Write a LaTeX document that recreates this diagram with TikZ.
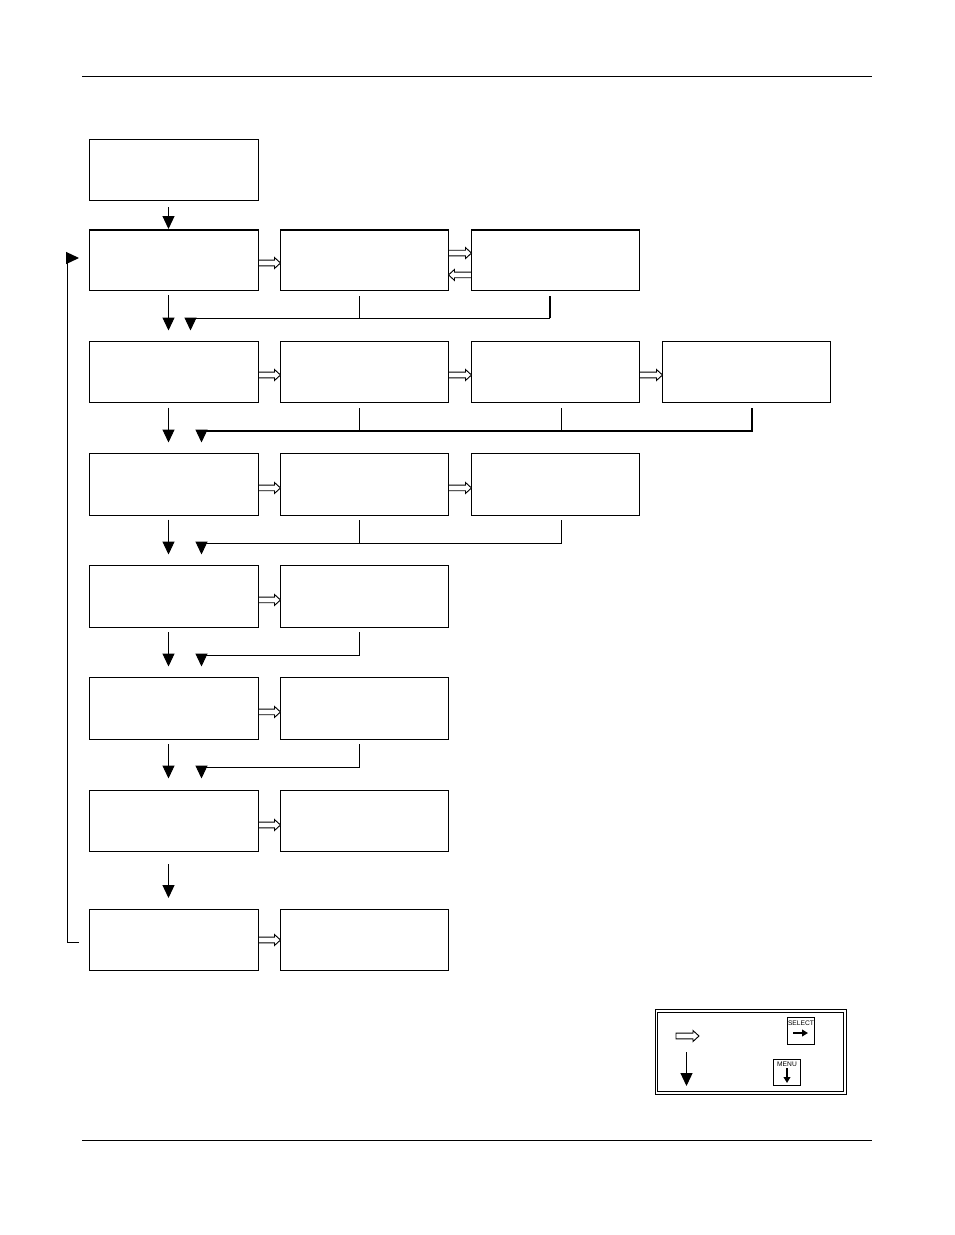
\documentclass[tikz,border=0pt]{standalone}
\usepackage{fontspec}
\setmainfont{Liberation Sans}
\usetikzlibrary{arrows.meta,calc}
\tikzset{
  bx/.style={draw=black,line width=0.75pt,fill=white,inner sep=0pt,outer sep=0pt},
  rule/.style={draw=black,line width=0.75pt},
  nextarrow/.style={draw=black,line width=0.75pt,-{Triangle[length=9.7pt,width=9pt]}},
  feed/.style={draw=black,line width=0.75pt},
  feedthick/.style={draw=black,line width=1.5pt},
  holl/.style={draw=black,line width=0.7pt,fill=white,line join=miter},
  btxt/.style={inner sep=0pt,font=\fontsize{5}{5}\selectfont},
  btip/.style={draw=black,line width=1.2pt,-{Triangle[length=4.5pt,width=5pt]}}
}
\newcommand{\bxn}[5]{\node[bx,minimum width={(#4-#2)*0.75pt},minimum height={(#5-#3)*0.75pt}] (#1) at ({(#2+#4)/2},{(#3+#5)/2}) {};}
% hollow arrow between two points on one level; #3 = +1 rightwards, -1 leftwards
\newcommand{\hollowarrow}[3]{\draw[holl] let \p1=(#1),\p2=(#2) in
  (\x1,{\y1+2.1pt}) -- ({\x2-(#3)*4.5pt},{\y1+2.1pt}) -- ({\x2-(#3)*4.5pt},{\y1+4.1pt}) -- (\x2,\y1)
  -- ({\x2-(#3)*4.5pt},{\y1-4.1pt}) -- ({\x2-(#3)*4.5pt},{\y1-2.1pt}) -- (\x1,{\y1-2.1pt}) -- cycle;}
\newcommand{\sela}[3]{\hollowarrow{[yshift=#3]#1.east}{[yshift=#3]#2.west}{1}}
\begin{document}
\begin{tikzpicture}[x=0.75pt,y=-0.75pt]
\useasboundingbox (0,0) rectangle (954,1235);
% page rules
\coordinate (rt1) at (82,76.5); \coordinate (rt2) at (872,76.5);
\coordinate (rb1) at (82,1140.5); \coordinate (rb2) at (872,1140.5);
\draw[rule] (rt1) -- (rt2);
\draw[rule] (rb1) -- (rb2);
% boxes
\bxn{a0}{89.5}{139.5}{258.5}{200.5}
\bxn{a1}{89.5}{229.5}{258.5}{290.5}
\bxn{b1}{280.5}{229.5}{448.5}{290.5}
\bxn{c1}{471.5}{229.5}{639.5}{290.5}
\bxn{a2}{89.5}{341.5}{258.5}{402.5}
\bxn{b2}{280.5}{341.5}{448.5}{402.5}
\bxn{c2}{471.5}{341.5}{639.5}{402.5}
\bxn{d2}{662.5}{341.5}{830.5}{402.5}
\bxn{a3}{89.5}{453.5}{258.5}{515.5}
\bxn{b3}{280.5}{453.5}{448.5}{515.5}
\bxn{c3}{471.5}{453.5}{639.5}{515.5}
\bxn{a4}{89.5}{565.5}{258.5}{627.5}
\bxn{b4}{280.5}{565.5}{448.5}{627.5}
\bxn{a5}{89.5}{677.5}{258.5}{739.5}
\bxn{b5}{280.5}{677.5}{448.5}{739.5}
\bxn{a6}{89.5}{790.5}{258.5}{851.5}
\bxn{b6}{280.5}{790.5}{448.5}{851.5}
\bxn{a7}{89.5}{909.5}{258.5}{970.5}
\bxn{b7}{280.5}{909.5}{448.5}{970.5}
% heavier top edges of the second row
\draw[line width=1.5pt] (a1.north west) -- (a1.north east);
\draw[line width=1.5pt] (b1.north west) -- (b1.north east);
\draw[line width=1.5pt] (c1.north west) -- (c1.north east);
% select arrows
\sela{a1}{b1}{-2.25pt}
\sela{a2}{b2}{-2.25pt}\sela{b2}{c2}{-2.25pt}\sela{c2}{d2}{-2.25pt}
\sela{a3}{b3}{-2.6pt}\sela{b3}{c3}{-2.6pt}
\sela{a4}{b4}{-2.6pt}
\sela{a5}{b5}{-2.6pt}
\sela{a6}{b6}{-3pt}
\sela{a7}{b7}{0pt}
\sela{b1}{c1}{5.2pt}
\hollowarrow{[yshift=-11.2pt]c1.west}{[yshift=-11.2pt]b1.east}{-1}
% menu arrows
\coordinate (s0) at (168.5,207); \coordinate (t0) at (168.5,229);
\coordinate (s1) at (168.5,295); \coordinate (t1) at (168.5,330.5);
\coordinate (s2) at (168.5,407.5); \coordinate (t2) at (168.5,442.5);
\coordinate (s3) at (168.5,519.5); \coordinate (t3) at (168.5,554.5);
\coordinate (s4) at (168.5,632); \coordinate (t4) at (168.5,666.5);
\coordinate (s5) at (168.5,744); \coordinate (t5) at (168.5,778.5);
\coordinate (s6) at (168.5,864); \coordinate (t6) at (168.5,898);
\foreach \i in {0,...,6} {\draw[nextarrow] (s\i) -- (t\i);}
% return lines
\coordinate (p1) at (550,296); \coordinate (q1) at (190.5,318); \coordinate (e1) at (190.5,330.5);
\coordinate (p1b) at (359,296);
\draw[feedthick] (p1) -- (p1 |- q1);
\draw[feed] (p1 |- q1) -- (q1);
\draw[feed] (p1b) -- (p1b |- q1);
\draw[nextarrow] (q1) -- (e1);
\coordinate (p2) at (752,408); \coordinate (q2) at (201.5,431); \coordinate (e2) at (201.5,442.5);
\coordinate (p2b) at (359,408); \coordinate (p2c) at (561,408);
\draw[feedthick] (p2) -- (p2 |- q2) -- (q2);
\draw[feed] (p2b) -- (p2b |- q2);
\draw[feed] (p2c) -- (p2c |- q2);
\draw[nextarrow] (q2) -- (e2);
\coordinate (p3) at (561,520); \coordinate (q3) at (201.5,543); \coordinate (e3) at (201.5,554.5);
\coordinate (p3b) at (359,520);
\draw[feed] (p3) -- (p3 |- q3) -- (q3);
\draw[feed] (p3b) -- (p3b |- q3);
\draw[nextarrow] (q3) -- (e3);
\coordinate (p4) at (359,632); \coordinate (q4) at (201.5,655); \coordinate (e4) at (201.5,666.5);
\draw[feed] (p4) -- (p4 |- q4) -- (q4);
\draw[nextarrow] (q4) -- (e4);
\coordinate (p5) at (359,744); \coordinate (q5) at (201.5,767); \coordinate (e5) at (201.5,778.5);
\draw[feed] (p5) -- (p5 |- q5) -- (q5);
\draw[nextarrow] (q5) -- (e5);
% loop back
\coordinate (l0) at (79,942.5); \coordinate (l1) at (67.5,942.5); \coordinate (l2) at (67.5,258); \coordinate (l3) at (79,258);
\draw[feed] (l0) -- (l1) -- (l2);
\draw[nextarrow] (l2) -- (l3);
% legend
\bxn{lgo}{655}{1009.5}{846.5}{1094.5}
\bxn{lgi}{657.8}{1012.5}{843.5}{1091.5}
\coordinate (ls1) at (676,1036); \coordinate (ls2) at (699,1036);
\hollowarrow{ls1}{ls2}{1}
\coordinate (lm1) at (686.5,1052); \coordinate (lm2) at (686.5,1086);
\draw[nextarrow] (lm1) -- (lm2);
\bxn{bsel}{787.5}{1017.5}{814.5}{1044.5}
\node[btxt] (tsel) at (801,1023) {SELECT};
\coordinate (as1) at (793,1033); \coordinate (as2) at (808,1033);
\draw[btip] (as1) -- (as2);
\bxn{bmen}{773.5}{1059}{800.5}{1085.5}
\node[btxt] (tmen) at (787,1064.5) {MENU};
\coordinate (am1) at (787,1068); \coordinate (am2) at (787,1083);
\draw[btip] (am1) -- (am2);
\end{tikzpicture}
\end{document}
